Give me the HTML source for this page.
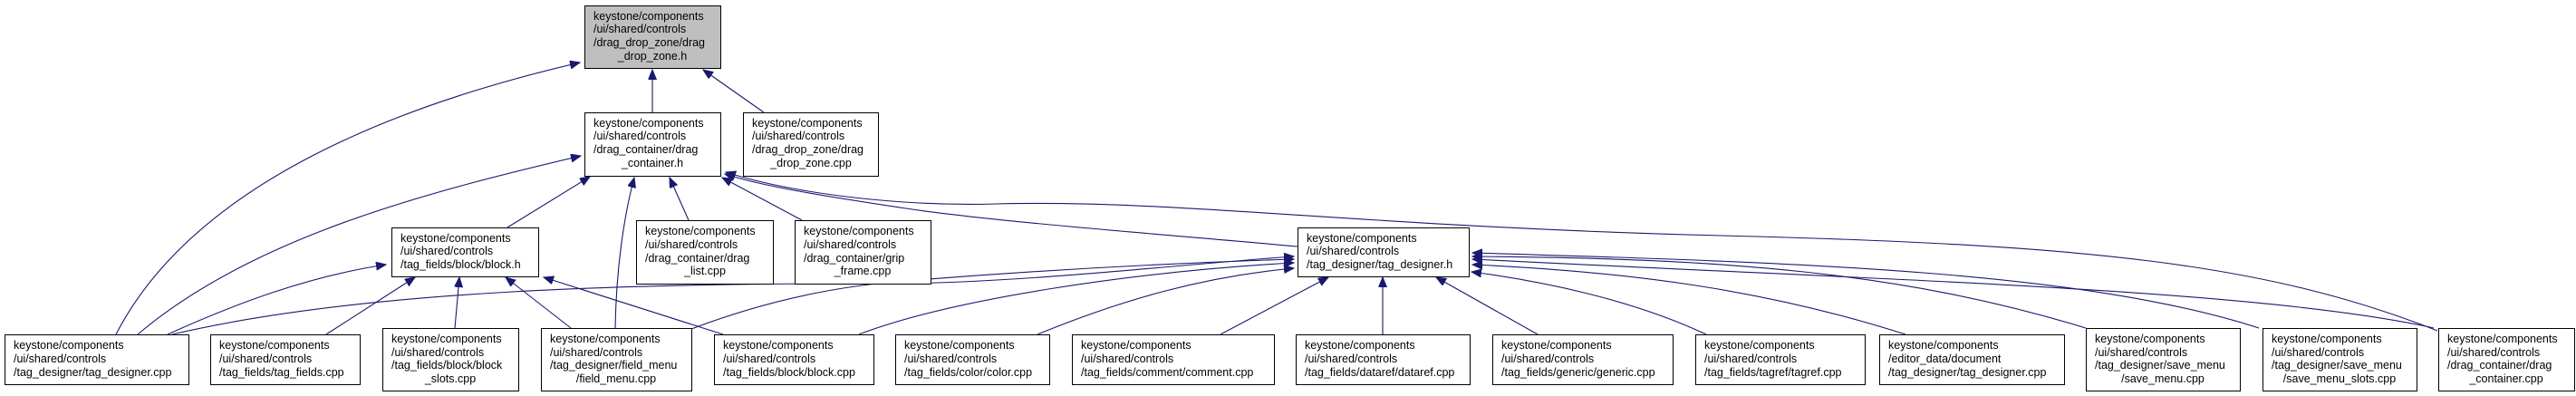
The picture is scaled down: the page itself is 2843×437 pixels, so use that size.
<!DOCTYPE html>
<html><head><meta charset="utf-8"><style>
html,body{margin:0;padding:0;background:#fff}
svg{display:block}
text{font-family:"Liberation Sans",Arial,sans-serif;font-size:12.5px;fill:#000}
.b{fill:#fff;stroke:#000;stroke-width:1}
.e{fill:none;stroke:#191970;stroke-width:1.1}
</style></head><body>
<svg width="2843" height="437" viewBox="0 0 2843 437" xmlns="http://www.w3.org/2000/svg">
<defs>
<marker id="a" markerUnits="userSpaceOnUse" markerWidth="12" markerHeight="10" refX="11" refY="4.5" orient="auto">
<path d="M0,0 L11,4.5 L0,9 z" fill="#191970" stroke="#191970"/>
</marker>
</defs>

<!-- edges -->
<g class="e" marker-end="url(#a)">
<path d="M720,124 L720,77"/>
<path d="M843,124 L776,77"/>
<path d="M128,369 C210,210 420,120 640,69"/>
<path d="M152,369 C280,260 480,210 641,172"/>
<path d="M185,369 C260,335 340,305 426,292"/>
<path d="M190,369 C400,320 700,312 1000,313 C1150,310 1300,292 1428,283"/>
<path d="M360,369 L458,306"/>
<path d="M502,362 L507,306"/>
<path d="M630,362 L558,306"/>
<path d="M798,369 L600,306"/>
<path d="M679,362 C680,300 688,240 700,196"/>
<path d="M763,363 C850,330 930,315 1000,310 C1150,298 1300,290 1428,286"/>
<path d="M948,369 C1050,330 1250,300 1428,290"/>
<path d="M560,251 L651,195"/>
<path d="M760,243 L739,196"/>
<path d="M885,243 L797,196"/>
<path d="M1432,272 C1300,260 1100,245 1000,230 C900,215 840,205 800,192"/>
<path d="M2690,365 C2500,290 2300,270 1900,260 C1500,250 1300,220 1100,225 C1000,228 880,215 801,190"/>
<path d="M1145,369 C1240,330 1330,305 1428,296"/>
<path d="M1347,369 L1466,306"/>
<path d="M1526,369 L1526,306"/>
<path d="M1697,369 L1585,306"/>
<path d="M1883,369 C1800,330 1700,310 1624,300"/>
<path d="M2103,369 C1950,320 1800,300 1625,292"/>
<path d="M2302,362 C2100,300 1900,285 1625,283"/>
<path d="M2493,362 C2300,300 2000,290 1625,279"/>
<path d="M2686,362 C2500,320 2100,310 1625,286"/>
</g>

<!-- nodes -->
<rect x="645.5" y="6.5" width="150" height="69" fill="#bfbfbf" stroke="#000"/>
<text x="655" y="22">keystone/components</text>
<text x="655" y="36">/ui/shared/controls</text>
<text x="655" y="51">/drag_drop_zone/drag</text>
<text x="720" y="66" text-anchor="middle">_drop_zone.h</text>

<rect class="b" x="645.5" y="124.5" width="150" height="70"/>
<text x="655" y="140">keystone/components</text>
<text x="655" y="154">/ui/shared/controls</text>
<text x="655" y="169">/drag_container/drag</text>
<text x="720" y="184" text-anchor="middle">_container.h</text>

<rect class="b" x="820.5" y="124.5" width="149" height="70"/>
<text x="830" y="140">keystone/components</text>
<text x="830" y="154">/ui/shared/controls</text>
<text x="830" y="169">/drag_drop_zone/drag</text>
<text x="895" y="184" text-anchor="middle">_drop_zone.cpp</text>

<rect class="b" x="432.5" y="251.5" width="162" height="54"/>
<text x="442" y="267">keystone/components</text>
<text x="442" y="281">/ui/shared/controls</text>
<text x="442" y="296">/tag_fields/block/block.h</text>

<rect class="b" x="702.5" y="243.5" width="151" height="70"/>
<text x="712" y="259">keystone/components</text>
<text x="712" y="274">/ui/shared/controls</text>
<text x="712" y="289">/drag_container/drag</text>
<text x="778" y="303" text-anchor="middle">_list.cpp</text>

<rect class="b" x="877.5" y="243.5" width="150" height="70"/>
<text x="887" y="259">keystone/components</text>
<text x="887" y="274">/ui/shared/controls</text>
<text x="887" y="289">/drag_container/grip</text>
<text x="952" y="303" text-anchor="middle">_frame.cpp</text>

<rect class="b" x="1432.5" y="251.5" width="189" height="54"/>
<text x="1442" y="267">keystone/components</text>
<text x="1442" y="281">/ui/shared/controls</text>
<text x="1442" y="296">/tag_designer/tag_designer.h</text>

<!-- bottom row 3-line -->
<rect class="b" x="5.5" y="369.5" width="203" height="55"/>
<text x="15" y="385">keystone/components</text>
<text x="15" y="400">/ui/shared/controls</text>
<text x="15" y="415">/tag_designer/tag_designer.cpp</text>

<rect class="b" x="232.5" y="369.5" width="165" height="55"/>
<text x="242" y="385">keystone/components</text>
<text x="242" y="400">/ui/shared/controls</text>
<text x="242" y="415">/tag_fields/tag_fields.cpp</text>

<rect class="b" x="422.5" y="362.5" width="150" height="69"/>
<text x="432" y="378">keystone/components</text>
<text x="432" y="393">/ui/shared/controls</text>
<text x="432" y="407">/tag_fields/block/block</text>
<text x="497" y="422" text-anchor="middle">_slots.cpp</text>

<rect class="b" x="597.5" y="362.5" width="166" height="69"/>
<text x="607" y="378">keystone/components</text>
<text x="607" y="393">/ui/shared/controls</text>
<text x="607" y="407">/tag_designer/field_menu</text>
<text x="680" y="422" text-anchor="middle">/field_menu.cpp</text>

<rect class="b" x="788.5" y="369.5" width="176" height="55"/>
<text x="798" y="385">keystone/components</text>
<text x="798" y="400">/ui/shared/controls</text>
<text x="798" y="415">/tag_fields/block/block.cpp</text>

<rect class="b" x="988.5" y="369.5" width="170" height="55"/>
<text x="998" y="385">keystone/components</text>
<text x="998" y="400">/ui/shared/controls</text>
<text x="998" y="415">/tag_fields/color/color.cpp</text>

<rect class="b" x="1183.5" y="369.5" width="223" height="55"/>
<text x="1193" y="385">keystone/components</text>
<text x="1193" y="400">/ui/shared/controls</text>
<text x="1193" y="415">/tag_fields/comment/comment.cpp</text>

<rect class="b" x="1430.5" y="369.5" width="192" height="55"/>
<text x="1440" y="385">keystone/components</text>
<text x="1440" y="400">/ui/shared/controls</text>
<text x="1440" y="415">/tag_fields/dataref/dataref.cpp</text>

<rect class="b" x="1647.5" y="369.5" width="199" height="55"/>
<text x="1657" y="385">keystone/components</text>
<text x="1657" y="400">/ui/shared/controls</text>
<text x="1657" y="415">/tag_fields/generic/generic.cpp</text>

<rect class="b" x="1871.5" y="369.5" width="187" height="55"/>
<text x="1881" y="385">keystone/components</text>
<text x="1881" y="400">/ui/shared/controls</text>
<text x="1881" y="415">/tag_fields/tagref/tagref.cpp</text>

<rect class="b" x="2074.5" y="369.5" width="204" height="55"/>
<text x="2084" y="385">keystone/components</text>
<text x="2084" y="400">/editor_data/document</text>
<text x="2084" y="415">/tag_designer/tag_designer.cpp</text>

<rect class="b" x="2302.5" y="362.5" width="170" height="69"/>
<text x="2312" y="378">keystone/components</text>
<text x="2312" y="393">/ui/shared/controls</text>
<text x="2312" y="407">/tag_designer/save_menu</text>
<text x="2387" y="422" text-anchor="middle">/save_menu.cpp</text>

<rect class="b" x="2497.5" y="362.5" width="170" height="69"/>
<text x="2507" y="378">keystone/components</text>
<text x="2507" y="393">/ui/shared/controls</text>
<text x="2507" y="407">/tag_designer/save_menu</text>
<text x="2582" y="422" text-anchor="middle">/save_menu_slots.cpp</text>

<rect class="b" x="2691.5" y="362.5" width="150" height="69"/>
<text x="2701" y="378">keystone/components</text>
<text x="2701" y="393">/ui/shared/controls</text>
<text x="2701" y="407">/drag_container/drag</text>
<text x="2766" y="422" text-anchor="middle">_container.cpp</text>
</svg>
</body></html>
